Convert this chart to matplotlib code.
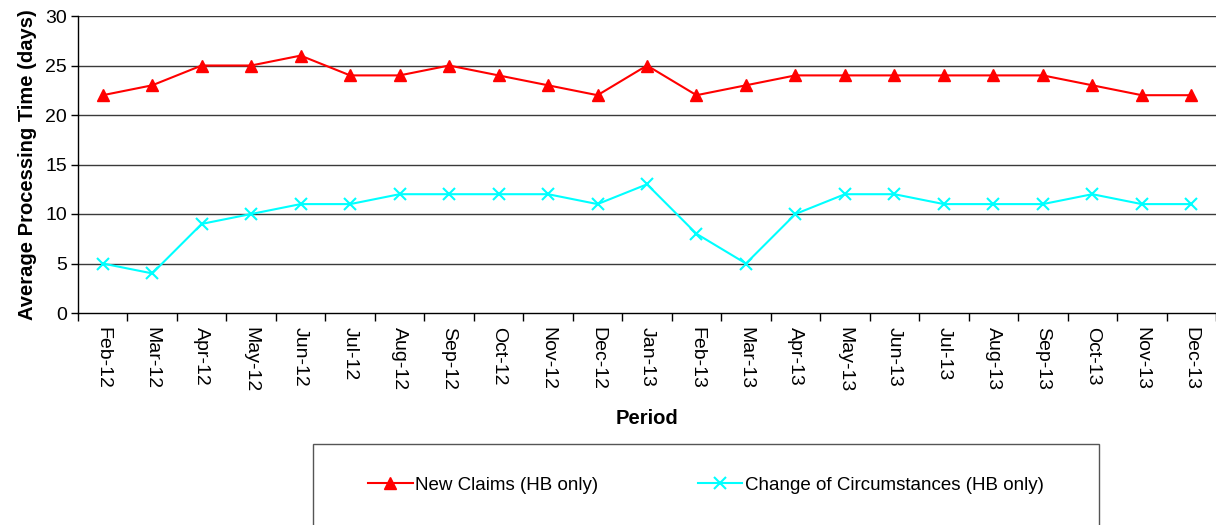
import matplotlib
matplotlib.use("Agg")
import matplotlib.pyplot as plt
from matplotlib.patches import Rectangle
import numpy as np

plt.rcParams['font.family'] = ['Liberation Sans', 'DejaVu Sans']

periods = ["Feb-12", "Mar-12", "Apr-12", "May-12", "Jun-12", "Jul-12", "Aug-12",
           "Sep-12", "Oct-12", "Nov-12", "Dec-12", "Jan-13", "Feb-13", "Mar-13",
           "Apr-13", "May-13", "Jun-13", "Jul-13", "Aug-13", "Sep-13", "Oct-13",
           "Nov-13", "Dec-13"]
new_claims = [22, 23, 25, 25, 26, 24, 24, 25, 24, 23, 22, 25, 22, 23, 24, 24, 24,
              24, 24, 24, 23, 22, 22]
change_circ = [5, 4, 9, 10, 11, 11, 12, 12, 12, 12, 11, 13, 8, 5, 10, 12, 12, 11,
               11, 11, 12, 11, 11]
yticks = [0, 5, 10, 15, 20, 25, 30]

W, H = 1216, 525
fig = plt.figure(figsize=(W / 100, H / 100), dpi=100)
ax = fig.add_axes([78 / W, (H - 313) / H, (W - 78) / W, (313 - 16) / H])

x = np.arange(len(periods))
l1, = ax.plot(x, new_claims, color='#ff0000', lw=1.5, marker='^', markersize=9,
              label='New Claims (HB only)', zorder=3)
l2, = ax.plot(x, change_circ, color='#00ffff', lw=1.5, marker='x', markersize=9,
              markeredgewidth=1.5, label='Change of Circumstances (HB only)', zorder=3)

ax.set_xlim(-0.5, len(periods) - 0.5)
ax.set_ylim(0, 30)
ax.set_yticks(yticks)
ax.set_yticklabels([str(v) for v in yticks], fontsize=14)
ax.set_xticks(x)
ax.set_xticklabels(periods, rotation=-90, fontsize=14)
ax.set_xticks(np.arange(len(periods) + 1) - 0.5, minor=True)
ax.tick_params(axis='x', which='major', length=0, pad=10)
ax.tick_params(axis='x', which='minor', length=6, width=1, color='black', direction='out')
ax.tick_params(axis='y', length=5, width=1, direction='out', pad=3)

for v in yticks[1:]:
    ax.axhline(v, color='#3a3a3a', lw=1, zorder=1)

for s in ['top', 'right']:
    ax.spines[s].set_visible(False)
for s in ['left', 'bottom']:
    ax.spines[s].set_color('black')
    ax.spines[s].set_linewidth(1)

ax.set_ylabel('Average Processing Time (days)', fontsize=14.5, fontweight='bold', labelpad=6)
ax.set_xlabel('Period', fontsize=14.5, fontweight='bold', labelpad=12)

rect = Rectangle((313 / W, -0.01), (1099 - 313) / W, (H - 444) / H + 0.01,
                 transform=fig.transFigure, fill=False, edgecolor='#555555', lw=1)
fig.patches.append(rect)

fig.legend(handles=[l1, l2], loc='center', bbox_to_anchor=(706 / W, (H - 485) / H),
           ncol=2, frameon=False, fontsize=13.5, handlelength=2.35, handletextpad=0.15,
           columnspacing=5.3)

fig.savefig('out.png', dpi=100)
